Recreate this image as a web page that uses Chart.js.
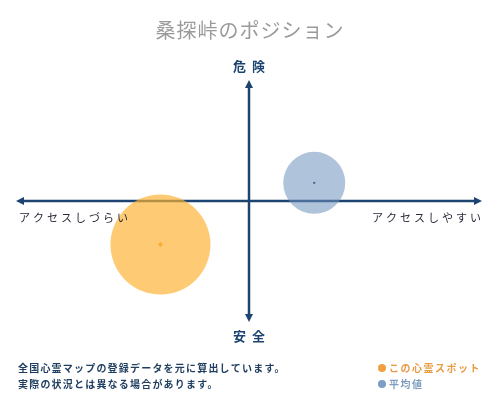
<!DOCTYPE html>
<html>
<head>
<meta charset="utf-8">
<script src="https://cdn.jsdelivr.net/npm/chart.js@4"></script>
<style>
  html, body { margin: 0; padding: 0; background: #fff; }
  #wrap { width: 500px; height: 400px; }
</style>
</head>
<body>
<div id="wrap"><canvas id="positionChart" width="500" height="400"></canvas></div>
<script>
// Position map data
const spotNames = ['この心霊スポット', '平均値'];
const accessValues = [-3.8, 2.8];   // x: アクセスしづらい (-) / しやすい (+)
const dangerValues = [-3.6, 1.5];   // y: 安全 (-) / 危険 (+)
const bubbleSizes = [50, 31];
const axisLabels = { top: '危険', bottom: '安全', left: 'アクセスしづらい', right: 'アクセスしやすい' };
const titleText = '桑探峠のポジション';
const noteLines = ['全国心霊マップの登録データを元に算出しています。', '実際の状況とは異なる場合があります。'];

const FONT = '"Noto Sans CJK JP", "Noto Sans", sans-serif';
const NAVY = '#1d4470';

function text(ctx, str, x, y, font, color, align, spacing) {
  ctx.save();
  ctx.font = font;
  ctx.fillStyle = color;
  ctx.textAlign = align || 'left';
  ctx.textBaseline = 'middle';
  ctx.letterSpacing = spacing || '0px';
  ctx.fillText(str, x, y);
  ctx.restore();
}

// axes with arrow heads, drawn under the bubbles
const axesPlugin = {
  id: 'axes',
  beforeDatasetsDraw(chart) {
    const { ctx, chartArea: a, scales } = chart;
    const cx = scales.x.getPixelForValue(0);
    const cy = scales.y.getPixelForValue(0);
    ctx.save();
    ctx.strokeStyle = NAVY;
    ctx.fillStyle = NAVY;
    ctx.lineWidth = 2.5;
    ctx.beginPath();
    ctx.moveTo(a.left + 4, cy); ctx.lineTo(a.right - 4, cy);
    ctx.moveTo(cx, a.top + 4); ctx.lineTo(cx, a.bottom - 4);
    ctx.stroke();
    const head = (x, y, dx, dy) => {
      ctx.beginPath();
      ctx.moveTo(x, y);
      ctx.lineTo(x - dx * 8 - dy * 4, y - dy * 8 - dx * 4);
      ctx.lineTo(x - dx * 8 + dy * 4, y - dy * 8 + dx * 4);
      ctx.closePath();
      ctx.fill();
    };
    head(a.right, cy, 1, 0);
    head(a.left, cy, -1, 0);
    head(cx, a.top, 0, -1);
    head(cx, a.bottom, 0, 1);
    ctx.restore();
  },
  afterDraw(chart) {
    const { ctx, chartArea: a, scales } = chart;
    const cx = scales.x.getPixelForValue(0);
    const cy = scales.y.getPixelForValue(0);
    text(ctx, titleText, 250, 30, '20px ' + FONT, '#9a9a9a', 'center', '1px');
    text(ctx, axisLabels.top, cx + 3, a.top - 14, 'bold 13px ' + FONT, NAVY, 'center', '6px');
    text(ctx, axisLabels.bottom, cx + 3, a.bottom + 14, 'bold 13px ' + FONT, NAVY, 'center', '6px');
    text(ctx, axisLabels.left, a.left + 3, cy + 17, '11px ' + FONT, '#2a2a3a', 'left', '3px');
    text(ctx, axisLabels.right, a.right + 2, cy + 17, '11px ' + FONT, '#2a2a3a', 'right', '3px');

    // note
    noteLines.forEach((line, i) => {
      text(ctx, line, 18, 368 + i * 16, 'bold 10px ' + FONT, '#1f3d5e', 'left', '1.2px');
    });

    // legend
    const legend = [
      { label: spotNames[0], dot: '#f0a040', color: '#e89b45' },
      { label: spotNames[1], dot: '#7a9ec4', color: '#7f9dbf' }
    ];
    legend.forEach((item, i) => {
      const y = 368 + i * 16;
      ctx.save();
      ctx.fillStyle = item.dot;
      ctx.beginPath();
      ctx.arc(382, y, 4, 0, Math.PI * 2);
      ctx.fill();
      ctx.restore();
      text(ctx, item.label, 389, y, 'bold 10px ' + FONT, item.color, 'left', '1.5px');
    });
  }
};

new Chart(document.getElementById('positionChart').getContext('2d'), {
  type: 'bubble',
  data: {
    datasets: [
      {
        label: spotNames[0],
        data: [{ x: accessValues[0], y: dangerValues[0], r: bubbleSizes[0] }],
        backgroundColor: 'rgba(253, 178, 50, 0.68)',
        borderWidth: 0,
        clip: false
      },
      {
        label: spotNames[1],
        data: [{ x: accessValues[1], y: dangerValues[1], r: bubbleSizes[1] }],
        backgroundColor: 'rgba(110, 145, 190, 0.55)',
        borderWidth: 0,
        clip: false
      },
      {
        type: 'scatter',
        label: 'centers',
        data: accessValues.map((x, i) => ({ x, y: dangerValues[i] })),
        pointRadius: [2.5, 1.2],
        pointStyle: ['rectRot', 'circle'],
        backgroundColor: ['#f5a020', '#1d3b5c'],
        borderWidth: 0,
        clip: false
      }
    ]
  },
  options: {
    responsive: false,
    animation: false,
    layout: { autoPadding: false, padding: { left: 16, right: 18, top: 80, bottom: 78 } },
    scales: {
      x: { display: false, min: -10, max: 10 },
      y: { display: false, min: -10, max: 10 }
    },
    plugins: {
      legend: { display: false },
      title: { display: false },
      tooltip: { enabled: false }
    },
    events: []
  },
  plugins: [axesPlugin]
});
</script>
</body>
</html>
